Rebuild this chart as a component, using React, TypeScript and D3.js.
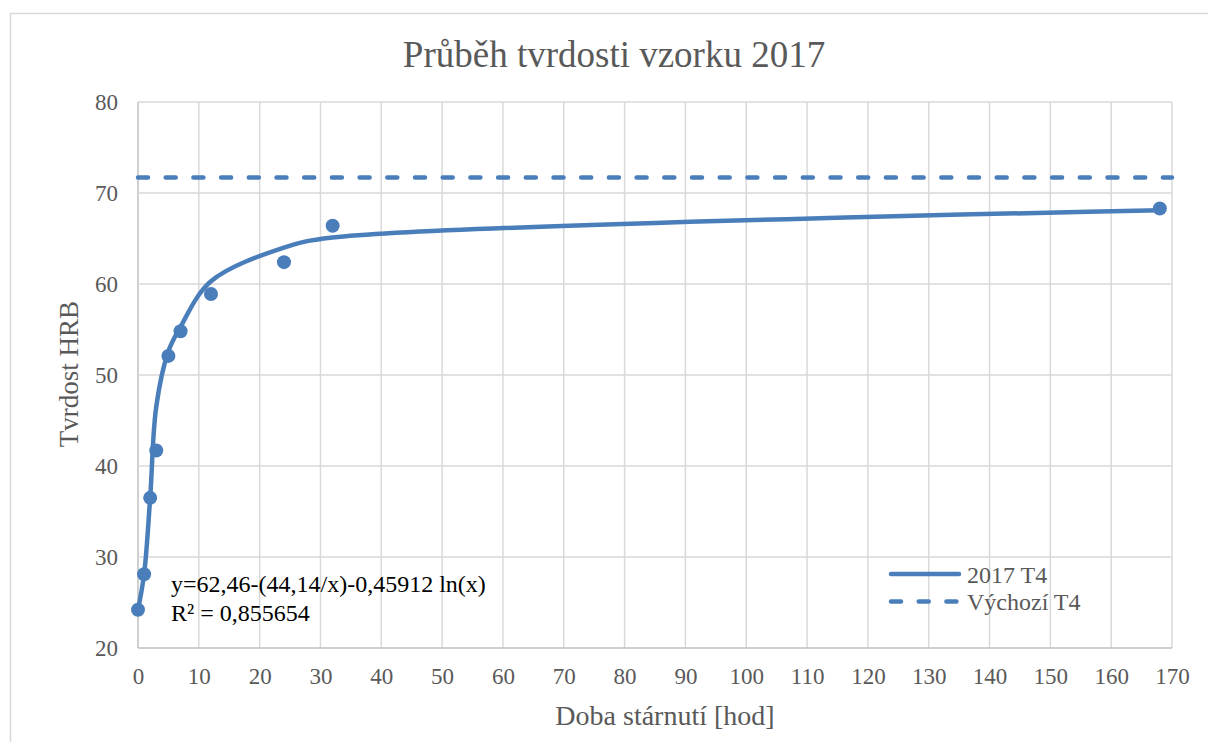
import { useEffect, useRef } from 'react';
import * as d3 from 'd3';

// aging time [h] and measured hardness
const hours = [0, 1, 2, 3, 5, 7, 12, 24, 32, 168];
const hardness = [24.2, 28.1, 36.5, 41.7, 52.1, 54.8, 58.9, 62.4, 66.4, 68.3];
// smoothed "2017 T4" line as drawn
const lineHardness = [24.2, 28.1, 36.5, 46.5, 52.6, 55.3, 60.3, 64.0, 65.1, 68.1];
// initial state "Výchozí T4"
const baseHours = [0, 170];
const baseHardness = [71.7, 71.7];

const legendLabels = ['2017 T4', 'Výchozí T4'];
const title = 'Průběh tvrdosti vzorku 2017';
const xTitle = 'Doba stárnutí [hod]';
const yTitle = 'Tvrdost HRB';
const equation = ['y=62,46-(44,14/x)-0,45912 ln(x)', 'R² = 0,855654'];

const BLUE = '#4a7ebb';
const GRID = '#d9d9d9';
const TEXT = '#595959';
const FONT = '"Liberation Serif", "Times New Roman", serif';
const DASH = '10 17.7';

const Chart = () => {
  const ref = useRef<SVGSVGElement>(null);

  const drawChart = () => {
    const width = 1208;
    const height = 742;
    const left = 138, right = 1172, top = 102, bottom = 648;

    const svg = d3.select(ref.current);
    svg.selectAll('*').remove();
    svg.attr('width', width).attr('height', height);

    svg.append('rect')
      .attr('x', 10.5).attr('y', 13.5)
      .attr('width', 1240).attr('height', 760)
      .attr('fill', '#fff')
      .attr('stroke', GRID)
      .attr('stroke-width', 1.5);

    const xScale = d3.scaleLinear().domain([0, 170]).range([left, right]);
    const yScale = d3.scaleLinear().domain([20, 80]).range([bottom, top]);
    const xTicks = d3.range(0, 171, 10);
    const yTicks = d3.range(20, 81, 10);

    // gridlines
    svg.append('g')
      .selectAll('line')
      .data(xTicks)
      .join('line')
      .attr('x1', d => xScale(d)).attr('x2', d => xScale(d))
      .attr('y1', top).attr('y2', bottom)
      .attr('stroke', d => d === 0 ? '#bfbfbf' : GRID)
      .attr('stroke-width', 1.5);
    svg.append('g')
      .selectAll('line')
      .data(yTicks)
      .join('line')
      .attr('x1', left).attr('x2', right)
      .attr('y1', d => yScale(d)).attr('y2', d => yScale(d))
      .attr('stroke', d => d === 20 ? '#bfbfbf' : GRID)
      .attr('stroke-width', 1.5);

    // axes labels
    const xAxis = svg.append('g')
      .attr('transform', `translate(0,${bottom})`)
      .call(d3.axisBottom(xScale).tickValues(xTicks).tickSize(0).tickPadding(20).tickFormat(d3.format('d')));
    const yAxis = svg.append('g')
      .attr('transform', `translate(${left},0)`)
      .call(d3.axisLeft(yScale).tickValues(yTicks).tickSize(0).tickPadding(20).tickFormat(d3.format('d')));
    [xAxis, yAxis].forEach(a => {
      a.select('.domain').remove();
      a.selectAll('text')
        .attr('fill', TEXT)
        .style('font-family', FONT)
        .style('font-size', '23px');
    });

    // baseline dashed
    const baseData = baseHours.map((h, i) => [h, baseHardness[i]] as [number, number]);
    svg.append('path')
      .datum(baseData)
      .attr('fill', 'none')
      .attr('stroke', BLUE)
      .attr('stroke-width', 4.5)
      .attr('stroke-linecap', 'round')
      .attr('stroke-dasharray', DASH)
      .attr('d', d3.line().x(d => xScale(d[0])).y(d => yScale(d[1])));

    // smoothed line
    const lineData = hours.map((h, i) => [h, lineHardness[i]] as [number, number]);
    svg.append('path')
      .datum(lineData)
      .attr('fill', 'none')
      .attr('stroke', BLUE)
      .attr('stroke-width', 4.5)
      .attr('stroke-linejoin', 'round')
      .attr('stroke-linecap', 'round')
      .attr('d', d3.line().curve(d3.curveCatmullRom.alpha(0.5)).x(d => xScale(d[0])).y(d => yScale(d[1])));

    // measured points
    svg.append('g')
      .selectAll('circle')
      .data(hours)
      .join('circle')
      .attr('cx', d => xScale(d))
      .attr('cy', (d, i) => yScale(hardness[i]))
      .attr('r', 7)
      .attr('fill', BLUE);

    // equation label
    svg.append('g')
      .selectAll('text')
      .data(equation)
      .join('text')
      .attr('x', 171)
      .attr('y', (d, i) => 592 + i * 29)
      .attr('fill', '#000')
      .style('font-family', FONT)
      .style('font-size', '24px')
      .text(d => d);

    // legend
    const legend = svg.append('g');
    legendLabels.forEach((label, i) => {
      const y = 574 + i * 27.5;
      legend.append('line')
        .attr('x1', 891).attr('x2', 959)
        .attr('y1', y).attr('y2', y)
        .attr('stroke', BLUE)
        .attr('stroke-width', 4.5)
        .attr('stroke-linecap', 'round')
        .attr('stroke-dasharray', i === 1 ? DASH : null);
      legend.append('text')
        .attr('x', 967).attr('y', y + 8.5)
        .attr('fill', TEXT)
        .style('font-family', FONT)
        .style('font-size', '24px')
        .text(label);
    });

    // titles
    svg.append('text')
      .attr('x', 614).attr('y', 67)
      .attr('text-anchor', 'middle')
      .attr('fill', TEXT)
      .style('font-family', FONT)
      .style('font-size', '37px')
      .text(title);
    svg.append('text')
      .attr('x', 665).attr('y', 725)
      .attr('text-anchor', 'middle')
      .attr('fill', TEXT)
      .style('font-family', FONT)
      .style('font-size', '28px')
      .text(xTitle);
    svg.append('text')
      .attr('transform', 'translate(78,374) rotate(-90)')
      .attr('text-anchor', 'middle')
      .attr('fill', TEXT)
      .style('font-family', FONT)
      .style('font-size', '27px')
      .text(yTitle);
  };

  useEffect(() => {
    drawChart();
  }, []);

  return <svg ref={ref} style={{ position: 'absolute', left: 0, top: 0, background: '#fff' }}></svg>;
};

export default function App() {
  return <Chart />;
}
